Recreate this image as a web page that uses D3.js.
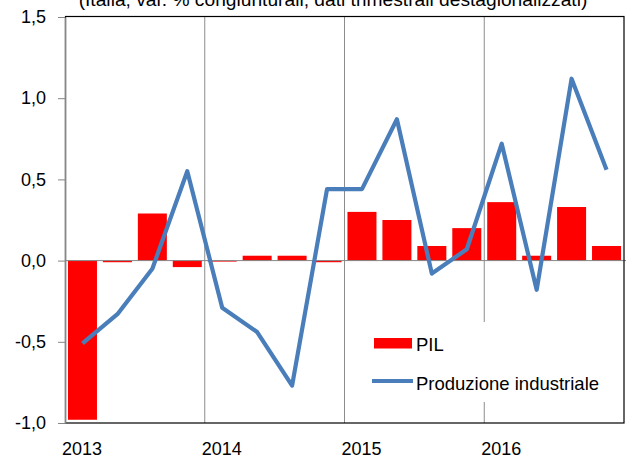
<!doctype html>
<html lang="it">
<head>
  <meta charset="utf-8">
  <title>PIL e produzione industriale</title>
  <style>
    body { margin: 0; background: #fff; }
    svg text { font-family: "Liberation Sans", Arial, sans-serif; fill: #000; }
    .y-axis path, .y-axis line { stroke: #868686; }
  </style>
</head>
<body>
<div id="chart"></div>
<script src="https://cdn.jsdelivr.net/npm/d3@7"></script>
<script>
  // quarters 2013Q1 .. 2016Q4
  const years = ['2013', '2014', '2015', '2016'];
  const quarters = years.flatMap(y => ['Q1', 'Q2', 'Q3', 'Q4'].map(q => y + q));

  // PIL, var. % congiunturale
  const pil = [-0.98, -0.01, 0.29, -0.04, 0.00, 0.03, 0.03, -0.01,
               0.30, 0.25, 0.09, 0.20, 0.36, 0.03, 0.33, 0.09];

  // Produzione industriale, var. % congiunturale
  const produzione = [-0.51, -0.33, -0.05, 0.55, -0.29, -0.44, -0.77, 0.44,
                      0.44, 0.87, -0.08, 0.07, 0.72, -0.18, 1.12, 0.56];

  const yTicks = [-1.0, -0.5, 0.0, 0.5, 1.0, 1.5];
  const title = '(Italia; var. % congiunturali; dati trimestrali destagionalizzati)';

  const width = 626, height = 458;
  const margin = { top: 17, right: 2, bottom: 35, left: 65 };

  const svg = d3.select('#chart').append('svg')
    .attr('width', width)
    .attr('height', height);

  const x = d3.scaleBand()
    .domain(quarters)
    .range([margin.left, width - margin.right])
    .paddingInner(0.17)
    .paddingOuter(0.085);

  const y = d3.scaleLinear()
    .domain([-1.0, 1.5])
    .range([height - margin.bottom, margin.top]);

  const it = d3.formatLocale({ decimal: ',', thousands: '.', grouping: [3], currency: ['', '€'], minus: '-' });
  const fmt = it.format('.1f');

  const gap = (x.step() - x.bandwidth()) / 2;
  const yearStart = yr => x(yr + 'Q1') - gap;

  // title, cut at the top of the picture like in the source
  svg.append('text')
    .attr('x', 333)
    .attr('y', 6)
    .attr('text-anchor', 'middle')
    .style('font-size', '19.2px')
    .text(title);

  // vertical year gridlines
  svg.append('g')
    .selectAll('line')
    .data(years.slice(1))
    .join('line')
    .attr('x1', d => yearStart(d))
    .attr('x2', d => yearStart(d))
    .attr('y1', y(1.5))
    .attr('y2', y(-1.0))
    .attr('stroke', '#8c8c8c')
    .attr('stroke-width', 1);

  // PIL bars
  svg.append('g')
    .selectAll('rect')
    .data(pil)
    .join('rect')
    .attr('x', (d, i) => x(quarters[i]))
    .attr('width', x.bandwidth())
    .attr('y', d => y(Math.max(0, d)))
    .attr('height', d => Math.max(1, Math.abs(y(d) - y(0))))
    .attr('fill', '#ff0000');

  // zero line
  svg.append('line')
    .attr('x1', margin.left)
    .attr('x2', width)
    .attr('y1', y(0))
    .attr('y2', y(0))
    .attr('stroke', '#868686')
    .attr('stroke-width', 1);

  // production line
  const line = d3.line()
    .x((d, i) => x(quarters[i]) + x.bandwidth() / 2)
    .y(d => y(d));

  svg.append('path')
    .datum(produzione)
    .attr('d', line)
    .attr('fill', 'none')
    .attr('stroke', '#4a7ebb')
    .attr('stroke-width', 4.2)
    .attr('stroke-linejoin', 'round');

  // plot frame
  svg.append('rect')
    .attr('x', margin.left + 0.5)
    .attr('y', margin.top - 0.5)
    .attr('width', width - margin.right - margin.left - 0.5)
    .attr('height', y(-1.0) - margin.top + 0.5)
    .attr('fill', 'none')
    .attr('stroke', '#000')
    .attr('stroke-width', 1.2);

  // y axis
  const yAxis = svg.append('g')
    .attr('class', 'y-axis')
    .attr('transform', `translate(${margin.left},0)`)
    .call(d3.axisLeft(y).tickValues(yTicks).tickFormat(fmt).tickSize(7).tickSizeOuter(0).tickPadding(12));
  yAxis.select('.domain').attr('stroke-width', 1.5);
  yAxis.selectAll('text').style('font-size', '18px').attr('fill', '#000');

  // year labels
  svg.append('g')
    .selectAll('text')
    .data(years)
    .join('text')
    .attr('x', d => yearStart(d) - 3)
    .attr('y', 455)
    .style('font-size', '18px')
    .text(d => d);

  // legend
  const legend = svg.append('g');
  legend.append('rect')
    .attr('x', 366).attr('y', 322)
    .attr('width', 246).attr('height', 80)
    .attr('fill', '#fff');
  legend.append('rect')
    .attr('x', 374).attr('y', 338)
    .attr('width', 38).attr('height', 10.5)
    .attr('fill', '#ff0000');
  legend.append('text')
    .attr('x', 416).attr('y', 351)
    .style('font-size', '18.5px')
    .text('PIL');
  legend.append('line')
    .attr('x1', 372).attr('x2', 413)
    .attr('y1', 381).attr('y2', 381)
    .attr('stroke', '#4a7ebb')
    .attr('stroke-width', 4);
  legend.append('text')
    .attr('x', 416).attr('y', 390)
    .style('font-size', '18.5px')
    .text('Produzione industriale');
</script>
</body>
</html>
